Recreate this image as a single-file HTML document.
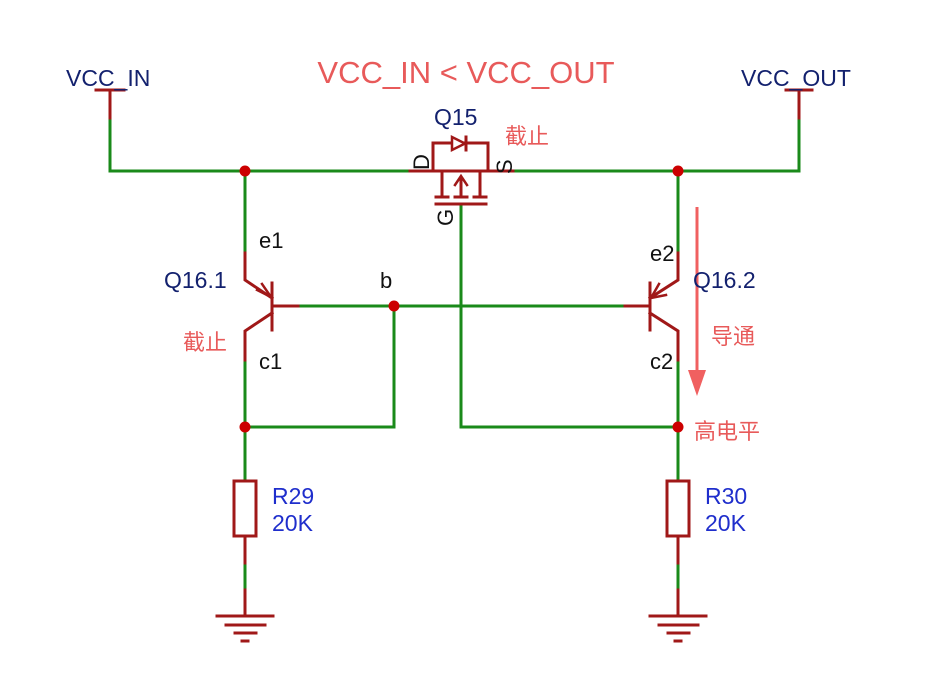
<!DOCTYPE html>
<html><head><meta charset="utf-8"><style>
html,body{margin:0;padding:0;background:#fff;}
svg{display:block;font-family:"Liberation Sans","Noto Sans CJK SC",sans-serif;}
</style></head><body>
<svg width="932" height="688" viewBox="0 0 932 688" xmlns="http://www.w3.org/2000/svg">
<rect width="932" height="688" fill="#fff"/>
<g fill="none" stroke-linecap="square">
<g stroke="#1a8a1a" stroke-width="3">
<polyline points="110,118 110,171 410,171"/>
<polyline points="513,171 799,171 799,118"/>
<line x1="245" y1="171" x2="245" y2="253"/>
<line x1="678" y1="171" x2="678" y2="253"/>
<line x1="298" y1="306" x2="625" y2="306"/>
<polyline points="394,306 394,427 245,427"/>
<line x1="245" y1="360" x2="245" y2="481"/>
<line x1="678" y1="360" x2="678" y2="481"/>
<polyline points="461,205 461,427 678,427"/>
<line x1="245" y1="563" x2="245" y2="590"/>
<line x1="678" y1="563" x2="678" y2="590"/>
</g>
<g stroke="#a01818" stroke-width="3">
<line x1="96" y1="90" x2="124" y2="90"/><line x1="110" y1="90" x2="110" y2="118"/>
<line x1="786" y1="90" x2="812" y2="90"/><line x1="799" y1="90" x2="799" y2="118"/>
<polyline points="410,171 488,171"/><line x1="488" y1="171" x2="513" y2="171"/>
<polyline points="433,171 433,143 488,143 488,171"/>
<line x1="442" y1="171" x2="442" y2="197"/>
<line x1="480" y1="171" x2="480" y2="197"/>
<line x1="461" y1="178" x2="461" y2="197"/>
<line x1="436" y1="197" x2="448" y2="197"/>
<line x1="455" y1="197" x2="467" y2="197"/>
<line x1="474" y1="197" x2="486" y2="197"/>
<line x1="436" y1="204" x2="486" y2="204"/>
<line x1="466" y1="137" x2="466" y2="150"/>
<polyline points="245,253 245,280 272,298"/>
<line x1="272" y1="283" x2="272" y2="330"/>
<line x1="272" y1="306" x2="298" y2="306"/>
<polyline points="272,313 245,331 245,360"/>
<polyline points="678,253 678,280 650,298"/>
<line x1="650" y1="283" x2="650" y2="330"/>
<line x1="625" y1="306" x2="650" y2="306"/>
<polyline points="650,313 678,331 678,360"/>
<rect x="234" y="481" width="22" height="55"/>
<rect x="667" y="481" width="22" height="55"/>
<line x1="245" y1="536" x2="245" y2="563"/><line x1="678" y1="536" x2="678" y2="563"/>
<line x1="245" y1="590" x2="245" y2="616"/><line x1="678" y1="590" x2="678" y2="616"/>
<line x1="217" y1="616" x2="273" y2="616"/><line x1="226" y1="625" x2="265" y2="625"/><line x1="235" y1="633" x2="256" y2="633"/><line x1="242" y1="641" x2="248" y2="641"/>
<line x1="650" y1="616" x2="706" y2="616"/><line x1="659" y1="625" x2="698" y2="625"/><line x1="668" y1="633" x2="689" y2="633"/><line x1="675" y1="641" x2="681" y2="641"/>
</g>
<polygon points="452,137 452,150 465,143.5" fill="#fff" stroke="#a01818" stroke-width="2.5"/>
<polyline points="455,185 461,176 467,185" stroke="#a01818" stroke-width="2.5"/>
<polyline points="257,290 271,297 262,284" stroke="#a01818" stroke-width="2.5"/>
<polyline points="666,295 651,298 659,284" stroke="#a01818" stroke-width="2.5"/>
</g>
<g fill="#cc0000">
<circle cx="245" cy="171" r="5.5"/><circle cx="678" cy="171" r="5.5"/>
<circle cx="394" cy="306" r="5.5"/><circle cx="245" cy="427" r="5.5"/><circle cx="678" cy="427" r="5.5"/>
</g>
<line x1="697" y1="207" x2="697" y2="375" stroke="#f06060" stroke-width="3"/>
<polygon points="688,370 706,370 697,396" fill="#f06060"/>
<text x="466" y="83" font-size="31" fill="#e85a5a" text-anchor="middle">VCC_IN &lt; VCC_OUT</text>
<g fill="#13216e" font-size="23">
<text x="66" y="86">VCC_IN</text>
<text x="741" y="86">VCC_OUT</text>
<text x="434" y="125">Q15</text>
<text x="164" y="288">Q16.1</text>
<text x="693" y="288">Q16.2</text>
</g>
<g fill="#1f2ecc" font-size="23">
<text x="272" y="504">R29</text><text x="272" y="531">20K</text>
<text x="705" y="504">R30</text><text x="705" y="531">20K</text>
</g>
<g fill="#111" font-size="22">
<text x="259" y="248">e1</text><text x="259" y="369">c1</text>
<text x="650" y="261">e2</text><text x="650" y="369">c2</text>
<text x="380" y="288">b</text>
<text transform="translate(429,170) rotate(-90)">D</text>
<text transform="translate(512,174) rotate(-90)">S</text>
<text transform="translate(453,226) rotate(-90)">G</text>
</g>
<g fill="#e85a5a" font-size="22">
<text x="505" y="144">截止</text>
<text x="183" y="350">截止</text>
<text x="711" y="344">导通</text>
<text x="694" y="439">高电平</text>
</g>
</svg>
</body></html>
